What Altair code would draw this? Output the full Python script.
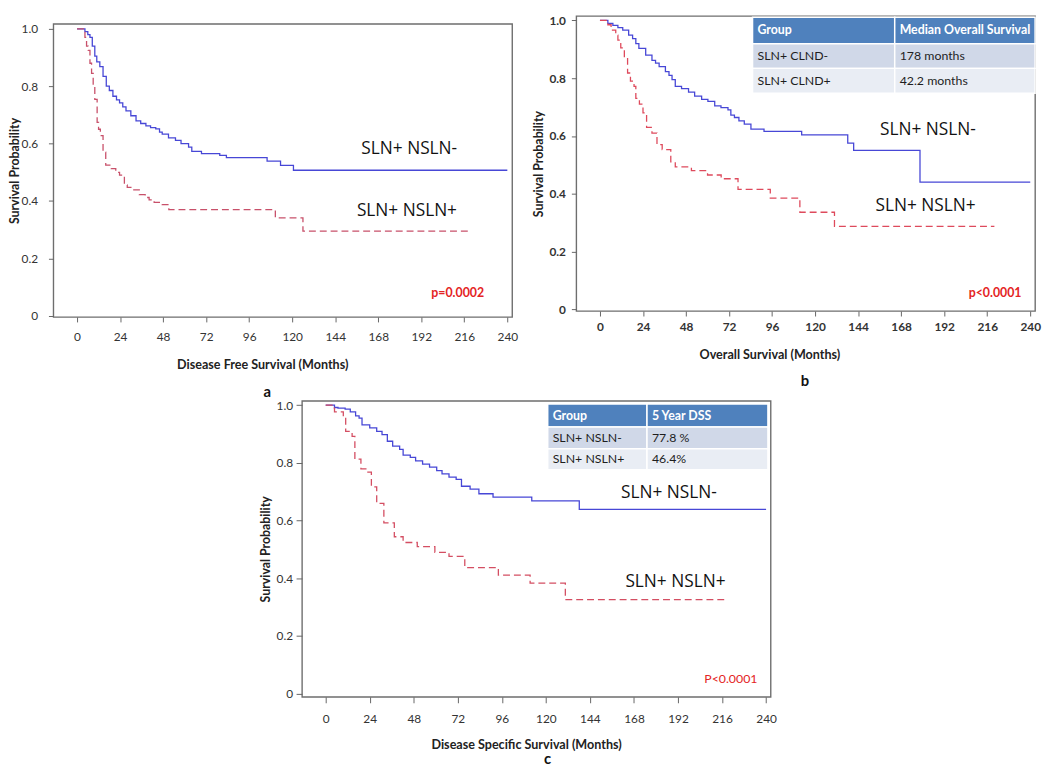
import altair as alt
import pandas as pd

# ---------------- data ----------------
# Panel a: Disease free survival
a_neg_t = [0, 4.4, 6, 7.2, 8.5, 9.9, 11, 12.7, 14.5, 16.3, 18, 20, 22, 23.7, 25.5, 27.3, 30, 32.9, 35.5, 38.4,
           41, 43.9, 46, 47.5, 51, 54.9, 58, 62.2, 64, 69.4, 79.6, 83.3, 106, 113.5, 120.7, 240]
a_neg_s = [1, 0.99, 0.98, 0.97, 0.94, 0.905, 0.885, 0.868, 0.834, 0.80, 0.785, 0.765, 0.752, 0.742, 0.728, 0.714,
           0.697, 0.679, 0.67, 0.662, 0.656, 0.651, 0.64, 0.633, 0.62, 0.611, 0.60, 0.588, 0.573, 0.565, 0.559,
           0.551, 0.539, 0.524, 0.507, 0.507]
a_pos_t = [0, 4.4, 5.3, 6.2, 7.2, 8.1, 9.0, 9.9, 11.2, 12, 13, 14.5, 16, 19.1, 21.6, 23.7, 26.4, 28, 31, 34.7,
           38, 40.2, 43, 47.5, 51.2, 110.6, 126, 220]
a_pos_s = [1, 0.97, 0.94, 0.925, 0.88, 0.845, 0.80, 0.754, 0.674, 0.65, 0.628, 0.570, 0.525, 0.513, 0.50, 0.49,
           0.456, 0.447, 0.439, 0.422, 0.412, 0.404, 0.395, 0.387, 0.370, 0.341, 0.295, 0.295]

# Panel b: Overall survival
b_neg_t = [0, 4.4, 7.2, 10, 12.7, 16, 18.2, 20, 21.7, 25.5, 29, 31, 33, 36.5, 38.5, 40.2, 42, 45.5, 49.4, 52.8,
           56.7, 60.2, 64, 67.5, 71.4, 73, 75, 77.5, 80.5, 84.2, 91.5, 112.5, 138.2, 141.5, 178.5, 240]
b_neg_s = [1, 0.99, 0.983, 0.975, 0.966, 0.949, 0.937, 0.92, 0.903, 0.88, 0.862, 0.852, 0.84, 0.823, 0.81, 0.795,
           0.772, 0.764, 0.752, 0.738, 0.727, 0.72, 0.704, 0.698, 0.69, 0.672, 0.664, 0.652, 0.641, 0.624, 0.616,
           0.604, 0.575, 0.55, 0.44, 0.44]
b_pos_t = [0, 4.4, 6.2, 8.8, 10, 11.6, 13.6, 15.4, 17, 19, 20, 22, 24, 26, 29, 31.8, 34.7, 39.5, 42, 51, 60,
           67.6, 77, 95, 111.5, 130.8, 220]
b_pos_s = [1, 0.985, 0.966, 0.949, 0.932, 0.905, 0.875, 0.818, 0.79, 0.772, 0.73, 0.71, 0.68, 0.63, 0.61, 0.57,
           0.553, 0.51, 0.493, 0.48, 0.465, 0.452, 0.415, 0.385, 0.336, 0.287, 0.287]

# Panel c: Disease specific survival
c_neg_t = [0, 4.8, 6.7, 10.6, 13.4, 16.3, 18.2, 19.8, 24, 27.8, 30.7, 33.6, 36.5, 40.3, 42.2, 46.1, 49, 52.8,
           56.6, 60.5, 63.4, 67.2, 71.1, 74, 78.7, 83.5, 91.2, 112.3, 138.2, 240]
c_neg_s = [1, 0.992, 0.99, 0.986, 0.977, 0.963, 0.955, 0.932, 0.921, 0.909, 0.898, 0.875, 0.858, 0.847, 0.827,
           0.819, 0.807, 0.796, 0.785, 0.773, 0.762, 0.751, 0.743, 0.719, 0.709, 0.693, 0.681, 0.668, 0.639, 0.639]
c_pos_t = [0, 3.8, 4.8, 9.6, 10.9, 14.4, 15.9, 19.2, 23, 24.9, 27.8, 31.7, 37.4, 42.2, 49.9, 59.5, 67.2, 75.8,
           94.1, 111.4, 130.6, 219]
c_pos_s = [1, 0.99, 0.977, 0.96, 0.909, 0.892, 0.813, 0.779, 0.768, 0.717, 0.66, 0.592, 0.544, 0.524, 0.51,
           0.49, 0.476, 0.437, 0.411, 0.383, 0.326, 0.326]

group_labels = ["SLN+ NSLN-", "SLN+ NSLN+"]
a_lab_t, a_lab_s = [185.3, 184.0], [0.580, 0.364]
b_lab_t, b_lab_s = [182.9, 181.6], [0.622, 0.359]
c_lab_t, c_lab_s = [187.0, 190.6], [0.694, 0.386]

p_texts = ["p=0.0002", "p<0.0001", "P<0.0001"]
p_t = [212.3, 220.4, 220.8]
p_s = [0.078, 0.057, 0.052]

x_titles = ["Disease Free Survival (Months)", "Overall Survival (Months)", "Disease Specific Survival (Months)"]
panel_letters = ["a", "b", "c"]

b_tab_cols = [85.1, 164.4, 242.7]
b_tab_rows = [1.011, 0.919, 0.834, 0.748]
b_tab_text = [["Group", "Median Overall Survival"], ["SLN+ CLND-", "178 months"], ["SLN+ CLND+", "42.2 months"]]
c_tab_cols = [121.0, 175.1, 241.0]
c_tab_rows = [1.004, 0.924, 0.849, 0.776]
c_tab_text = [["Group", "5 Year DSS"], ["SLN+ NSLN-", "77.8 %"], ["SLN+ NSLN+", "46.4%"]]
row_fills = ["#4f81bd", "#d0d8e8", "#e9edf4"]

x_ticks = list(range(0, 241, 24))
y_ticks = [0, 0.2, 0.4, 0.6, 0.8, 1.0]

BLUE = "#4747d6"
FONT = "Lato"
ANN_FONT = "Open Sans"


def table_layers(cols, rows, texts, xe, ye):
    cells, heads, body = [], [], []
    for r in range(3):
        for c in range(2):
            cells.append({"t": cols[c], "t2": cols[c + 1], "s": rows[r], "s2": rows[r + 1], "fill": row_fills[r]})
            rec = {"t": cols[c], "s": (rows[r] + rows[r + 1]) / 2, "txt": texts[r][c]}
            (heads if r == 0 else body).append(rec)
    rect = alt.Chart(pd.DataFrame(cells)).mark_rect(stroke="white", strokeWidth=1.5).encode(
        x=xe(), x2="t2:Q", y=ye(), y2="s2:Q", fill=alt.Fill("fill:N", scale=None))
    th = alt.Chart(pd.DataFrame(heads)).mark_text(align="left", baseline="middle", dx=5, font=FONT,
                                                  fontSize=12.5, fontWeight="bold", color="white").encode(
        x=xe(), y=ye(), text="txt:N")
    tb = alt.Chart(pd.DataFrame(body)).mark_text(align="left", baseline="middle", dx=5, font=FONT,
                                                 fontSize=12.5, color="#1e1e1e").encode(
        x=xe(), y=ye(), text="txt:N")
    return [rect, th, tb]


def panel(i, neg_t, neg_s, pos_t, pos_s, lab_t, lab_s, red, xdom, ydom, w, h, bold_labels,
          ylab_pad, xlab_pad, tick, ytitle_x, xtitle_x, xtitle_y, letter_xy, p_weight, top_guard, table=None):
    yaxis = alt.Axis(values=y_ticks, labelExpr="datum.value === 0 ? '0' : format(datum.value, '.1f')",
                     grid=False, domain=False, tickSize=tick, tickColor="#666666", tickWidth=1,
                     labelFont=FONT, labelFontSize=12, labelColor="#333333",
                     labelFontWeight="bold" if bold_labels else "normal", labelPadding=ylab_pad,
                     title="Survival Probability", titleFont=FONT, titleFontSize=12.5, titleFontWeight="bold",
                     titleColor="#222222", titleX=ytitle_x, titleBaseline="middle")
    xaxis = alt.Axis(values=x_ticks, grid=False, domain=False, tickSize=tick, tickColor="#666666", tickWidth=1,
                     labelFont=FONT, labelFontSize=12, labelColor="#333333", labelFlush=False,
                     labelFontWeight="bold" if bold_labels else "normal", labelPadding=xlab_pad,
                     title=x_titles[i], titleFont=FONT, titleFontSize=12.75, titleFontWeight="bold",
                     titleColor="#222222", titleX=xtitle_x, titleY=xtitle_y, titleBaseline="middle",
                     titleAlign="center")
    xs = alt.Scale(domain=xdom, nice=False, zero=False)
    ys = alt.Scale(domain=ydom, nice=False, zero=False)
    xe = lambda: alt.X("t:Q", scale=xs, axis=xaxis)
    ye = lambda: alt.Y("s:Q", scale=ys, axis=yaxis)

    layers = []
    if table is not None:
        layers += table_layers(*table, xe, ye)
    neg = alt.Chart(pd.DataFrame({"t": neg_t, "s": neg_s})).mark_line(
        interpolate="step-after", color=BLUE, strokeWidth=1.3).encode(x=xe(), y=ye())
    pos = alt.Chart(pd.DataFrame({"t": pos_t, "s": pos_s})).mark_line(
        interpolate="step-after", color=red, strokeWidth=1.3, strokeDash=[7, 4]).encode(x=xe(), y=ye())
    labs = alt.Chart(pd.DataFrame({"t": lab_t, "s": lab_s, "txt": group_labels})).mark_text(
        font=ANN_FONT, fontSize=17.5, color="#111111", align="center", baseline="middle").encode(
        x=xe(), y=ye(), text="txt:N")
    pv = alt.Chart(pd.DataFrame({"t": [p_t[i]], "s": [p_s[i]], "txt": [p_texts[i]]})).mark_text(
        font=FONT, fontSize=12.5, fontWeight=p_weight, color="#e42424", align="center", baseline="middle").encode(
        x=xe(), y=ye(), text="txt:N")
    letter = alt.Chart(pd.DataFrame({"txt": [panel_letters[i]]})).mark_text(
        font=FONT, fontSize=15, fontWeight="bold", color="#111111", align="center", baseline="middle").encode(
        x=alt.value(letter_xy[0]), y=alt.value(letter_xy[1]), text="txt:N")
    # invisible layout guard: fixes how far this panel's bounds reach above its frame
    guard = alt.Chart(pd.DataFrame({"v": [0]})).mark_rule(opacity=0, strokeWidth=1).encode(
        x=alt.value(0), x2=alt.value(1), y=alt.value(top_guard))
    layers += [neg, pos, labs, pv, letter, guard]
    return alt.layer(*layers).properties(width=w, height=h)


def spacer(w, h):
    return alt.Chart(pd.DataFrame({"v": [0]})).mark_rule(opacity=0).encode(
        x=alt.value(1), x2=alt.value(2), y=alt.value(h / 2)).properties(
        width=w, height=h, view=alt.ViewBackground(stroke="transparent"))


pa = panel(0, a_neg_t, a_neg_s, a_pos_t, a_pos_s, a_lab_t, a_lab_s, "#c8506a",
           [-13.2, 242.7], [-0.0045, 1.017], 465, 297, False, 11, 10, 5,
           -39, 211.7, 48, (216.7, 373), "bold", -4.5)
pb = panel(1, b_neg_t, b_neg_s, b_pos_t, b_pos_s, b_lab_t, b_lab_s, "#de4a5c",
           [-13.2, 242.7], [-0.006, 1.015], 465, 299, True, 6, 6, 5,
           -38.3, 195.7, 44.3, (231.7, 370), "bold", 2,
           table=(b_tab_cols, b_tab_rows, b_tab_text))
pc = panel(2, c_neg_t, c_neg_s, c_pos_t, c_pos_s, c_lab_t, c_lab_s, "#d44e62",
           [-12.9, 242.5], [-0.011, 1.015], 475, 300, False, 3.5, 11, 6,
           -37, 227.1, 48, (248.8, 363), "normal", -4,
           table=(c_tab_cols, c_tab_rows, c_tab_text))

col_a = alt.vconcat(spacer(465, 1), pa, spacing=0)
row1 = alt.hconcat(col_a, pb, spacing=12)
row2 = alt.hconcat(spacer(196.4, 10), pc, spacing=10)

chart = alt.vconcat(row1, row2, spacing=-6, background="white", padding=0).configure_view(
    stroke="#6e6e6e", strokeWidth=1.4)

chart.save("out.html", embed_options={"renderer": "svg", "actions": False})
